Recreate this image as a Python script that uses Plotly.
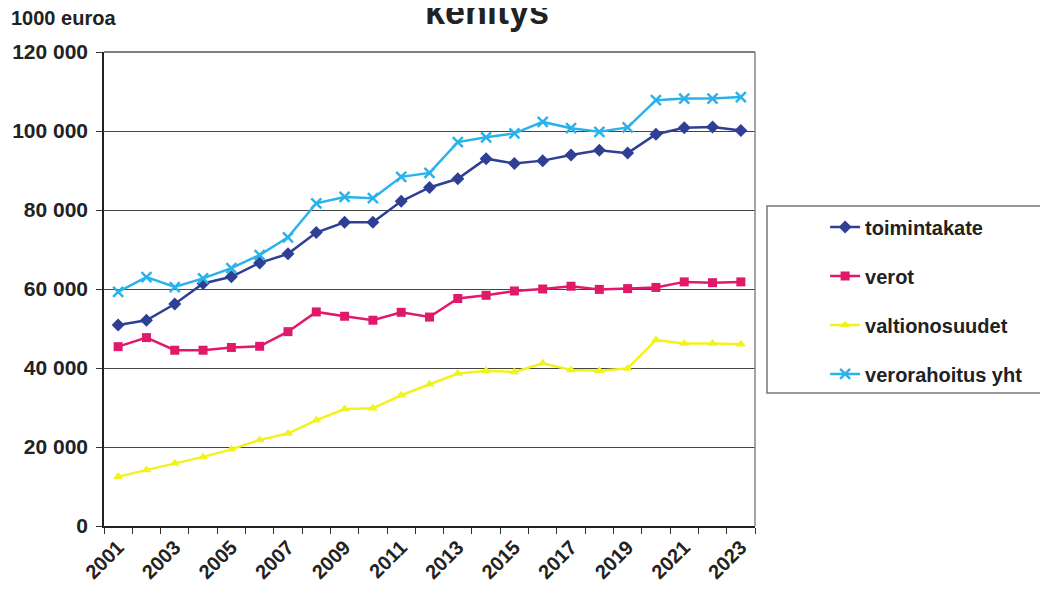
import plotly.graph_objects as go

years = list(range(2001, 2024))
toimintakate = [50900, 52100, 56200, 61400, 63100, 66600, 68900, 74300, 76900, 76900,
                82200, 85700, 87900, 93000, 91800, 92500, 93900, 95100, 94400, 99200,
                100800, 101000, 100100]
verot = [45400, 47700, 44500, 44500, 45200, 45500, 49200, 54200, 53100, 52100,
         54100, 52900, 57600, 58400, 59500, 60000, 60700, 59900, 60100, 60400,
         61800, 61600, 61800]
valtionosuudet = [12500, 14200, 15900, 17500, 19400, 21800, 23400, 26800, 29600, 29800,
                  33100, 35900, 38600, 39300, 39000, 41200, 39500, 39300, 39900, 47100,
                  46200, 46200, 46000]
verorahoitus_yht = [59300, 63000, 60500, 62700, 65300, 68600, 73100, 81700, 83300, 83000,
                    88400, 89400, 97200, 98400, 99400, 102300, 100700, 99800, 100900, 107800,
                    108200, 108200, 108600]
x_labels = [str(y) for y in range(2001, 2024, 2)]
y_ticks = [0, 20000, 40000, 60000, 80000, 100000, 120000]

FONT = "Liberation Sans"
TXT = "#222222"

series = [
    ("toimintakate", toimintakate, "#2E3F94", "diamond", 10),
    ("verot", verot, "#E0196B", "square", 9),
    ("valtionosuudet", valtionosuudet, "#F2F21C", "triangle-up", 9),
    ("verorahoitus yht", verorahoitus_yht, "#2BB2EA", "x-thin", 10),
]

fig = go.Figure()
for i, (name, vals, col, sym, sz) in enumerate(series):
    marker = dict(symbol=sym, size=sz, color=col)
    if sym == "x-thin":
        marker["line"] = dict(color=col, width=2.5)
    fig.add_trace(go.Scatter(
        x=years, y=vals, name=name, mode="lines+markers",
        line=dict(color=col, width=2.5), marker=marker,
        legendgroup=f"g{i}",
    ))

fig.update_layout(
    width=1040, height=583,
    margin=dict(l=96, r=293, t=44, b=65, autoexpand=False),
    paper_bgcolor="white", plot_bgcolor="white",
    separators=", ",
    font=dict(family=FONT, size=20, color=TXT, weight="bold"),
    showlegend=True,
    legend=dict(
        x=1.1077, y=0.672, xanchor="left", yanchor="top",
        font=dict(family=FONT, size=20, color=TXT, weight="bold"),
        tracegroupgap=20, bgcolor="rgba(0,0,0,0)", borderwidth=0,
    ),
    xaxis=dict(
        range=[2000.5, 2023.5], tickvals=[int(v) for v in x_labels], ticktext=x_labels,
        tickangle=-45, ticks="", showgrid=False, zeroline=False, automargin=False,
        showline=True, linecolor=TXT, linewidth=1.5,
        tickfont=dict(family=FONT, size=20, color=TXT, weight="bold"),
        minor=dict(ticks="outside", tick0=2000.5, dtick=1, ticklen=6,
                   tickcolor="#333333", tickwidth=1, showgrid=False),
    ),
    yaxis=dict(
        range=[0, 120000], tickvals=y_ticks, tickformat=",d", automargin=False,
        ticks="outside", ticklen=6, tickcolor="#333333", ticklabelstandoff=4,
        showgrid=True, gridcolor="#444444", gridwidth=1.3, zeroline=False,
        showline=True, linecolor=TXT, linewidth=1.5,
        tickfont=dict(family=FONT, size=21, color=TXT, weight="bold"),
    ),
    shapes=[
        dict(type="line", xref="paper", yref="paper", x0=1, x1=1, y0=0, y1=1,
             line=dict(color="#888888", width=1.5)),
        dict(type="line", xref="paper", yref="paper", x0=0, x1=1, y0=1, y1=1,
             line=dict(color="#555555", width=1.3)),
        dict(type="rect", xref="paper", yref="paper", x0=1.0184, x1=1.46, y0=0.2806, y1=0.675,
             line=dict(color="#777777", width=1.5)),
    ],
    annotations=[
        dict(text="kehitys", xref="paper", yref="paper", x=(487 - 104) / 651, y=1.085,
             xanchor="center", yanchor="middle", showarrow=False,
             font=dict(family=FONT, size=36, color=TXT, weight="bold")),
        dict(text="1000 euroa", xref="paper", yref="paper", x=(9 - 104) / 651, y=1.072,
             xanchor="left", yanchor="middle", showarrow=False,
             font=dict(family=FONT, size=20, color=TXT, weight="bold")),
    ],
)

fig.write_html("out.html")
